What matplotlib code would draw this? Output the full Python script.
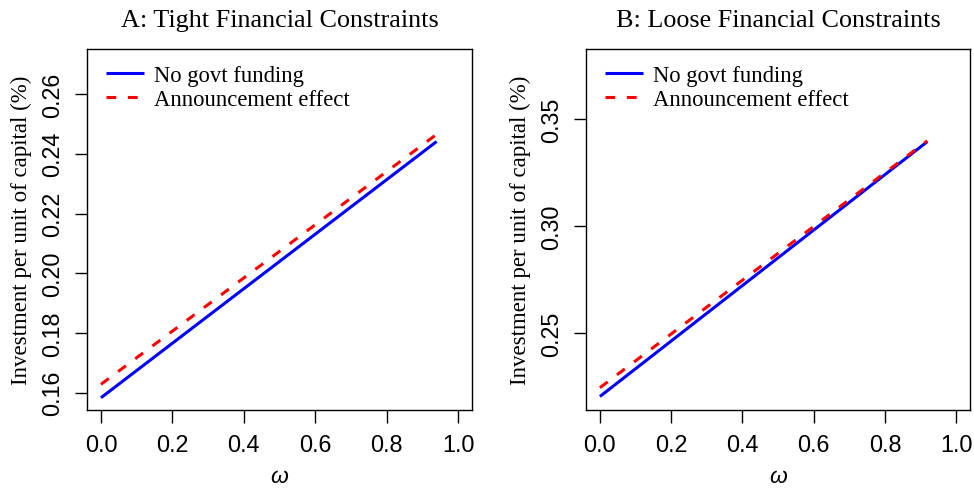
import matplotlib
matplotlib.use("Agg")
import matplotlib.pyplot as plt

# ---- data ----
omega_A = [0.0, 0.94]
no_govt_A = [0.1583, 0.2441]
announce_A = [0.1628, 0.2465]

omega_B = [0.0, 0.919]
no_govt_B = [0.2206, 0.3394]
announce_B = [0.2247, 0.3398]

titles = ["A: Tight Financial Constraints", "B: Loose Financial Constraints"]
yticks_A = [0.16, 0.18, 0.20, 0.22, 0.24, 0.26]
yticks_B = [0.25, 0.30, 0.35]
xticks = [0.0, 0.2, 0.4, 0.6, 0.8, 1.0]
legend_labels = ["No govt funding", "Announcement effect"]

SERIF = "Liberation Serif"
SANS = "Liberation Sans"

fig = plt.figure(figsize=(9.74, 4.89), dpi=100)
axA = fig.add_axes([0.089, 0.1595, 0.3959, 0.7383])
axB = fig.add_axes([0.6013, 0.1595, 0.3950, 0.7383])

panels = [
    (axA, omega_A, no_govt_A, announce_A, yticks_A, (0.1542, 0.2751), titles[0]),
    (axB, omega_B, no_govt_B, announce_B, yticks_B, (0.2143, 0.3826), titles[1]),
]

for ax, om, ng, an, yt, ylim, title in panels:
    ax.plot(om, ng, color="#0000ff", lw=2.2, solid_capstyle="butt", label=legend_labels[0])
    ax.plot(om, an, color="#ff0000", lw=2.2, linestyle=(0, (3.2, 3.8)),
            dash_capstyle="butt", label=legend_labels[1])
    ax.set_xlim(-0.04, 1.04)
    ax.set_ylim(*ylim)
    ax.set_xticks(xticks)
    ax.set_xticklabels([f"{v:.1f}" for v in xticks], fontfamily=SANS, fontsize=16.8)
    ax.set_yticks(yt)
    ax.set_yticklabels([f"{v:.2f}" for v in yt], fontfamily=SANS, fontsize=16.8,
                       rotation=90, va="center")
    ax.tick_params(axis="both", direction="out", length=9, width=1.0, color="black")
    ax.tick_params(axis="x", pad=7.5)
    ax.tick_params(axis="y", pad=7)
    for s in ax.spines.values():
        s.set_linewidth(1.0)
        s.set_color("black")
    ax.set_title(title, fontfamily=SERIF, fontsize=18.8, pad=16.5)
    ax.set_xlabel("ω", fontfamily=SANS, fontstyle="italic", fontsize=16.5, labelpad=6)
    ax.set_ylabel("Investment per unit of capital (%)", fontfamily=SERIF, fontsize=16.5,
                  labelpad=7)
    leg = ax.legend(loc="upper left", frameon=False, prop={"family": SERIF, "size": 16.3},
                    handlelength=1.7, handletextpad=0.45, labelspacing=0.15,
                    borderaxespad=0.3, bbox_to_anchor=(0.008, 1.0))

fig.savefig("out.png", dpi=100)
